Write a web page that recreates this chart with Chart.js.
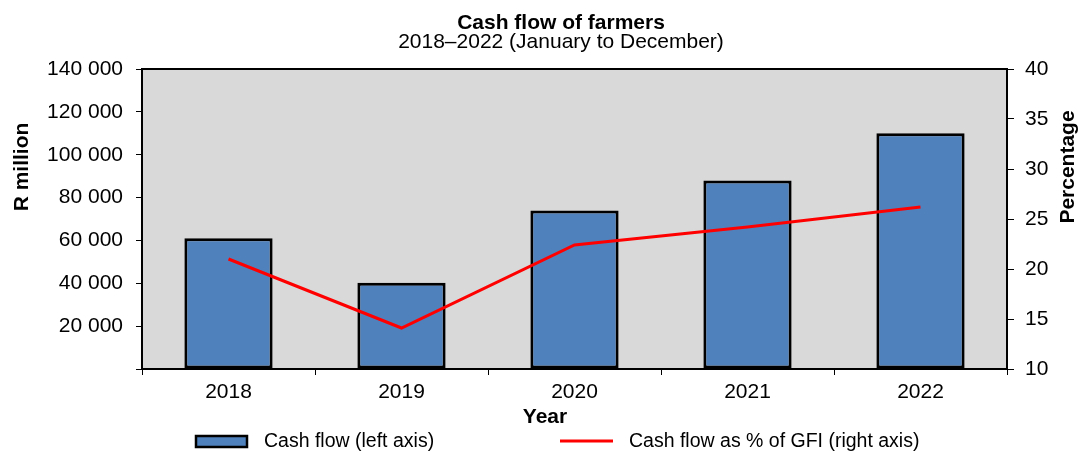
<!DOCTYPE html>
<html>
<head>
<meta charset="utf-8">
<title>Cash flow of farmers</title>
<script src="https://cdn.jsdelivr.net/npm/chart.js@4.4.1/dist/chart.umd.min.js"></script>
<style>
  html, body { margin: 0; padding: 0; background: #fff; }
  #wrap { width: 1083px; height: 452px; }
</style>
</head>
<body>
<div id="wrap"><canvas id="cashChart" width="1083" height="452"></canvas></div>
<script>
// years on the x axis
const years = ['2018', '2019', '2020', '2021', '2022'];
// cash flow, R million (left axis)
const cashFlow = [61000, 40300, 74000, 88000, 110000];
// cash flow as % of gross farming income (right axis)
const cashFlowPct = [21.0, 14.1, 22.4, 24.2, 26.2];

const FONT = "'Liberation Sans', Arial, sans-serif";
const fmtThousands = v => String(v).replace(/\B(?=(\d{3})+(?!\d))/g, ' ');

// grey plot background + black frame, titles and a spaced-out legend
const decorations = {
    id: 'decorations',
    beforeDatasetsDraw(chart) {
        const { ctx, chartArea: a } = chart;
        ctx.save();
        ctx.fillStyle = '#d9d9d9';
        ctx.fillRect(a.left, a.top, a.right - a.left, a.bottom - a.top);
        ctx.restore();
    },
    afterDraw(chart) {
        const { ctx, chartArea: a } = chart;
        ctx.save();
        ctx.strokeStyle = '#000';
        ctx.lineWidth = 2;
        ctx.strokeRect(a.left, a.top, a.right - a.left, a.bottom - a.top);

        ctx.fillStyle = '#000';
        ctx.textAlign = 'center';
        ctx.textBaseline = 'alphabetic';
        ctx.font = `bold 21px ${FONT}`;
        ctx.fillText('Cash flow of farmers', 561, 29);
        ctx.font = `21px ${FONT}`;
        ctx.fillText('2018\u20132022 (January to December)', 561, 48);

        ctx.font = `bold 21px ${FONT}`;
        ctx.fillText('Year', 545, 423);

        ctx.save();
        ctx.translate(28, 167);
        ctx.rotate(-Math.PI / 2);
        ctx.fillText('R million', 0, 0);
        ctx.restore();

        ctx.save();
        ctx.translate(1074, 167);
        ctx.rotate(-Math.PI / 2);
        ctx.fillText('Percentage', 0, 0);
        ctx.restore();

        // legend
        const bar = chart.data.datasets[1];
        const line = chart.data.datasets[0];
        ctx.fillStyle = bar.backgroundColor;
        ctx.fillRect(196, 436, 51, 11);
        ctx.strokeStyle = '#000';
        ctx.lineWidth = 2.5;
        ctx.strokeRect(196, 436, 51, 11);
        ctx.strokeStyle = line.borderColor;
        ctx.lineWidth = 3;
        ctx.beginPath();
        ctx.moveTo(560, 441);
        ctx.lineTo(613, 441);
        ctx.stroke();

        ctx.fillStyle = '#000';
        ctx.textAlign = 'left';
        ctx.font = `19.5px ${FONT}`;
        ctx.fillText(bar.label, 264, 447);
        ctx.fillText(line.label, 629, 447);
        ctx.restore();
    }
};

const ctx = document.getElementById('cashChart').getContext('2d');

new Chart(ctx, {
    data: {
        labels: years,
        datasets: [{
            type: 'line',
            label: 'Cash flow as % of GFI (right axis)',
            data: cashFlowPct,
            yAxisID: 'y1',
            borderColor: '#ff0000',
            borderWidth: 3,
            pointRadius: 0,
            tension: 0,
            order: 0
        }, {
            type: 'bar',
            label: 'Cash flow (left axis)',
            data: cashFlow,
            yAxisID: 'y',
            backgroundColor: '#4f81bd',
            borderColor: '#000',
            borderWidth: 3,
            borderSkipped: false,
            barPercentage: 0.51,
            categoryPercentage: 1.0,
            order: 1
        }]
    },
    options: {
        responsive: false,
        animation: false,
        devicePixelRatio: 1,
        layout: { padding: { top: 69, left: 0, right: 0, bottom: 0 } },
        plugins: {
            legend: { display: false },
            tooltip: { enabled: false },
            title: { display: false }
        },
        scales: {
            x: {
                afterFit: s => { s.height = 83; },
                grid: { drawOnChartArea: false, color: '#000', tickLength: 6, offset: true },
                border: { display: false },
                ticks: { color: '#000', font: { family: FONT, size: 21 }, padding: 5, maxRotation: 0 }
            },
            y: {
                position: 'left',
                min: 0,
                max: 140000,
                afterFit: s => { s.width = 142; },
                grid: { drawOnChartArea: false, color: '#000', tickLength: 6 },
                border: { display: false },
                ticks: {
                    stepSize: 20000,
                    color: '#000',
                    padding: 13,
                    font: { family: FONT, size: 21 },
                    callback: v => v === 0 ? '' : fmtThousands(v)
                }
            },
            y1: {
                position: 'right',
                min: 10,
                max: 40,
                afterFit: s => { s.width = 76; },
                grid: { drawOnChartArea: false, color: '#000', tickLength: 7 },
                border: { display: false },
                ticks: {
                    stepSize: 5,
                    color: '#000',
                    padding: 11,
                    font: { family: FONT, size: 21 }
                }
            }
        }
    },
    plugins: [decorations]
});
</script>
</body>
</html>
